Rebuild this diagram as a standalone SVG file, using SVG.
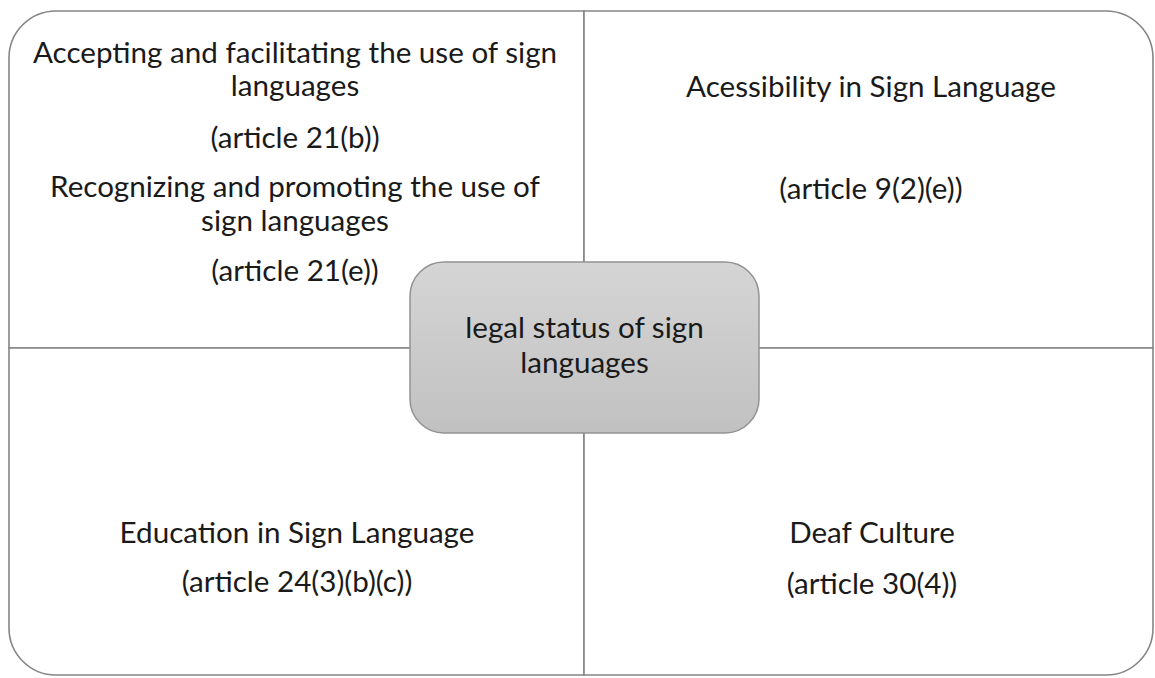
<svg xmlns="http://www.w3.org/2000/svg" width="1155" height="678" viewBox="0 0 1155 678">
  <style>
    .quad { fill: #ffffff; stroke: #858585; stroke-width: 1.6; }
    .t { font-family: "Lato", "Liberation Sans", sans-serif; font-size: 29.6px; fill: #1a1a1a; text-anchor: middle; }
    .center { stroke: #929292; stroke-width: 1.5; }
  </style>
  <defs>
    <linearGradient id="gray" x1="0" y1="0" x2="0" y2="1">
      <stop offset="0" stop-color="#d5d5d5"/>
      <stop offset="1" stop-color="#c1c1c1"/>
    </linearGradient>
  </defs>
  <rect x="0" y="0" width="1155" height="678" fill="#ffffff"/>

  <g id="quad-top-left">
    <path class="quad" d="M9,348 L9,58 A47,47 0 0 1 56,11 L584,11 L584,348 Z"/>
    <text class="t" x="295" y="63">Accepting and facilitating the use of sign</text>
    <text class="t" x="295" y="96">languages</text>
    <text class="t" x="295" y="148">(article 21(b))</text>
    <text class="t" x="295" y="197">Recognizing and promoting the use of</text>
    <text class="t" x="295" y="231">sign languages</text>
    <text class="t" x="295" y="281">(article 21(e))</text>
  </g>

  <g id="quad-top-right">
    <path class="quad" d="M584,11 L1106,11 A47,47 0 0 1 1153,58 L1153,348 L584,348 Z"/>
    <text class="t" x="871" y="97">Acessibility in Sign Language</text>
    <text class="t" x="871" y="199">(article 9(2)(e))</text>
  </g>

  <g id="quad-bottom-left">
    <path class="quad" d="M9,348 L584,348 L584,675 L56,675 A47,47 0 0 1 9,628 Z"/>
    <text class="t" x="297" y="543">Education in Sign Language</text>
    <text class="t" x="297" y="592">(article 24(3)(b)(c))</text>
  </g>

  <g id="quad-bottom-right">
    <path class="quad" d="M584,348 L1153,348 L1153,628 A47,47 0 0 1 1106,675 L584,675 Z"/>
    <text class="t" x="872" y="543">Deaf Culture</text>
    <text class="t" x="872" y="594">(article 30(4))</text>
  </g>

  <g id="connectors"></g>

  <g id="center-node">
    <rect class="center" x="410" y="262" width="349" height="171" rx="34" ry="34" fill="url(#gray)"/>
    <text class="t" x="584.5" y="338">legal status of sign</text>
    <text class="t" x="584.5" y="373">languages</text>
  </g>
</svg>
